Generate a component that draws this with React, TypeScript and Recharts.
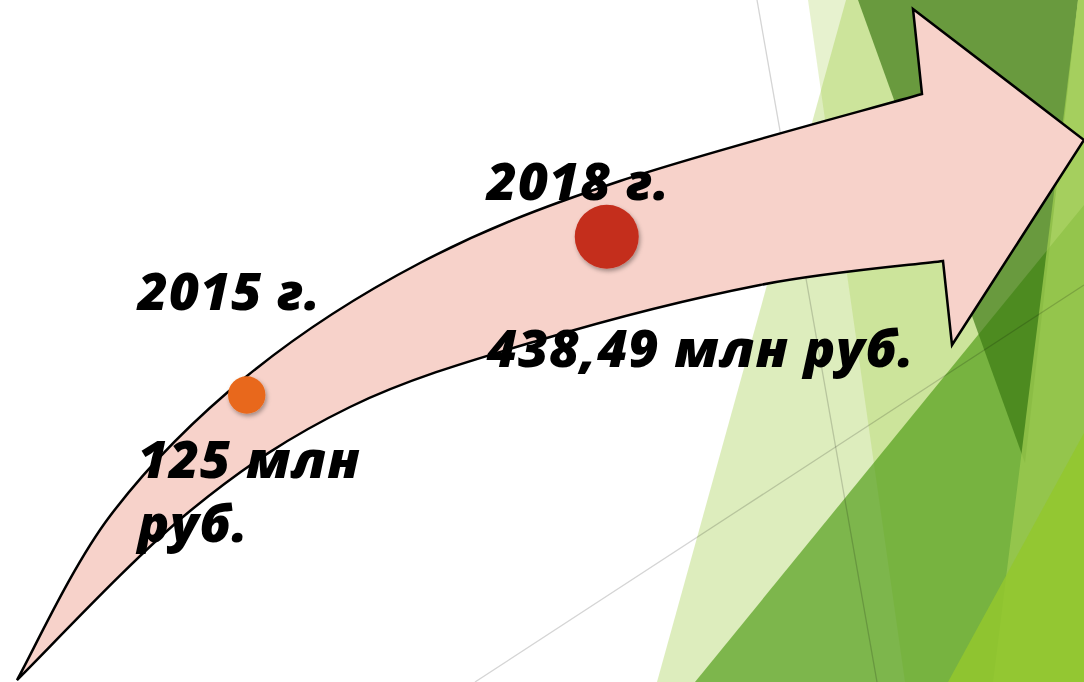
import { ScatterChart, Scatter, XAxis, YAxis, ZAxis, Cell } from "recharts";

const W = 1084;
const H = 682;

// milestones: year -> amount, млн руб.
const years = [2015, 2018];
const amounts = [125, 438.49];
const pointColors = ["#E8681A", "#C42D1C"];
const unitWords = ["млн", "руб."];

const data = years.map((year, i) => ({ year, amount: amounts[i] }));

// where the captions sit around each point
const labelLayout = [
  { dx: -109, titleDy: -85, valueDy: 83, wrap: true },
  { dx: -120, titleDy: -37, valueDy: 130, wrap: false }
];

const textStyle = {
  fontFamily: "'Open Sans', sans-serif",
  fontSize: 52,
  fontWeight: 800,
  fontStyle: "italic",
  letterSpacing: 1,
  fill: "#000"
} as const;

// slide decoration (Facet-like green facets, thin lines, big arrow)
type Pt = [number, number];

const facets: { pts: Pt[]; fill: string; opacity: number }[] = [
  { pts: [[846, 0], [W, 0], [W, H], [657, H]], fill: "#90C226", opacity: 0.3 },
  { pts: [[808, 0], [W, 0], [W, H], [905, H]], fill: "#90C226", opacity: 0.22 },
  { pts: [[695, H], [W, 205], [W, H]], fill: "#49980F", opacity: 0.65 },
  { pts: [[858, 0], [1078, 0], [1025, 463]], fill: "#3A7812", opacity: 0.68 },
  { pts: [[1078, 0], [W, 0], [W, H], [993, H]], fill: "#9BC94F", opacity: 0.8 },
  { pts: [[W, 433], [W, H], [948, H]], fill: "#93C72E", opacity: 0.85 }
];

const thinLines: [Pt, Pt][] = [
  [[757, 0], [877, H]],
  [[475, H], [W, 285]]
];

const arrowTop: Pt[] = [
  [17, 680], [110, 516], [247, 376], [420, 263], [620, 181], [922, 94]
];
const arrowHead: Pt[] = [[913, 9], [1084, 140], [952, 345], [943, 261]];
const arrowBottom: Pt[] = [
  [943, 261], [760, 285], [540, 340], [350, 407], [190, 511], [17, 680]
];

function smooth(pts: Pt[]) {
  let d = "";
  for (let i = 0; i < pts.length - 1; i++) {
    const p0 = pts[i - 1] || pts[i];
    const p1 = pts[i];
    const p2 = pts[i + 1];
    const p3 = pts[i + 2] || p2;
    const c1 = [p1[0] + (p2[0] - p0[0]) / 6, p1[1] + (p2[1] - p0[1]) / 6];
    const c2 = [p2[0] - (p3[0] - p1[0]) / 6, p2[1] - (p3[1] - p1[1]) / 6];
    d += ` C${c1[0]},${c1[1]} ${c2[0]},${c2[1]} ${p2[0]},${p2[1]}`;
  }
  return d;
}

const arrowPath =
  `M${arrowTop[0][0]},${arrowTop[0][1]}` +
  smooth(arrowTop) +
  arrowHead.map((p) => ` L${p[0]},${p[1]}`).join("") +
  smooth(arrowBottom) +
  " Z";

function Backdrop() {
  return (
    <svg width={W} height={H} style={{ position: "absolute", left: 0, top: 0 }}>
      <defs>
        <filter id="dotShadow" x="-50%" y="-50%" width="200%" height="200%">
          <feDropShadow dx="1.5" dy="2.5" stdDeviation="2" floodColor="#000" floodOpacity="0.35" />
        </filter>
      </defs>
      <rect width={W} height={H} fill="#fff" />
      {facets.map((f, i) => (
        <polygon key={i} points={f.pts.map((p) => p.join(",")).join(" ")} fill={f.fill} fillOpacity={f.opacity} />
      ))}
      {thinLines.map(([a, b], i) => (
        <line key={i} x1={a[0]} y1={a[1]} x2={b[0]} y2={b[1]} stroke="#000" strokeOpacity={0.17} strokeWidth={1.3} />
      ))}
      <path d={arrowPath} fill="#F7D2CA" stroke="#000" strokeWidth={2.5} strokeLinejoin="miter" />
    </svg>
  );
}

function Milestone(props: any) {
  const { cx, cy, payload, fill } = props;
  const i = years.indexOf(payload.year);
  const r = props.width ? props.width / 2 : Math.sqrt(props.size / Math.PI);
  const lay = labelLayout[i];
  const num = String(payload.amount).replace(".", ",");
  const x = cx + lay.dx;
  return (
    <g>
      <circle cx={cx} cy={cy} r={r} fill={fill} filter="url(#dotShadow)" />
      <text x={x} y={cy + lay.titleDy} style={textStyle}>{`${payload.year} г.`}</text>
      {lay.wrap ? (
        <text x={x} y={cy + lay.valueDy} style={textStyle}>
          <tspan x={x}>{`${num} ${unitWords[0]}`}</tspan>
          <tspan x={x} dy={64}>{unitWords[1]}</tspan>
        </text>
      ) : (
        <text x={x} y={cy + lay.valueDy} style={textStyle}>{`${num} ${unitWords.join(" ")}`}</text>
      )}
    </g>
  );
}

export default function App() {
  return (
    <div style={{ position: "relative", width: W, height: H, overflow: "hidden" }}>
      <style>{"body{margin:0}"}</style>
      <Backdrop />
      <div style={{ position: "absolute", left: 0, top: 0 }}>
        <ScatterChart width={W} height={H} margin={{ top: 0, right: 0, bottom: 0, left: 0 }}>
          {/* 120 px per year, x of 2015 at ~247 */}
          <XAxis type="number" dataKey="year" hide domain={[2012.944, 2021.977]} allowDataOverflow />
          <YAxis type="number" dataKey="amount" hide domain={[-443.36, 907.24]} allowDataOverflow />
          <ZAxis type="number" dataKey="amount" domain={[125, 438.49]} range={[1098, 3217]} />
          <Scatter data={data} shape={<Milestone />} isAnimationActive={false}>
            {data.map((_, i) => (
              <Cell key={i} fill={pointColors[i]} />
            ))}
          </Scatter>
        </ScatterChart>
      </div>
    </div>
  );
}
